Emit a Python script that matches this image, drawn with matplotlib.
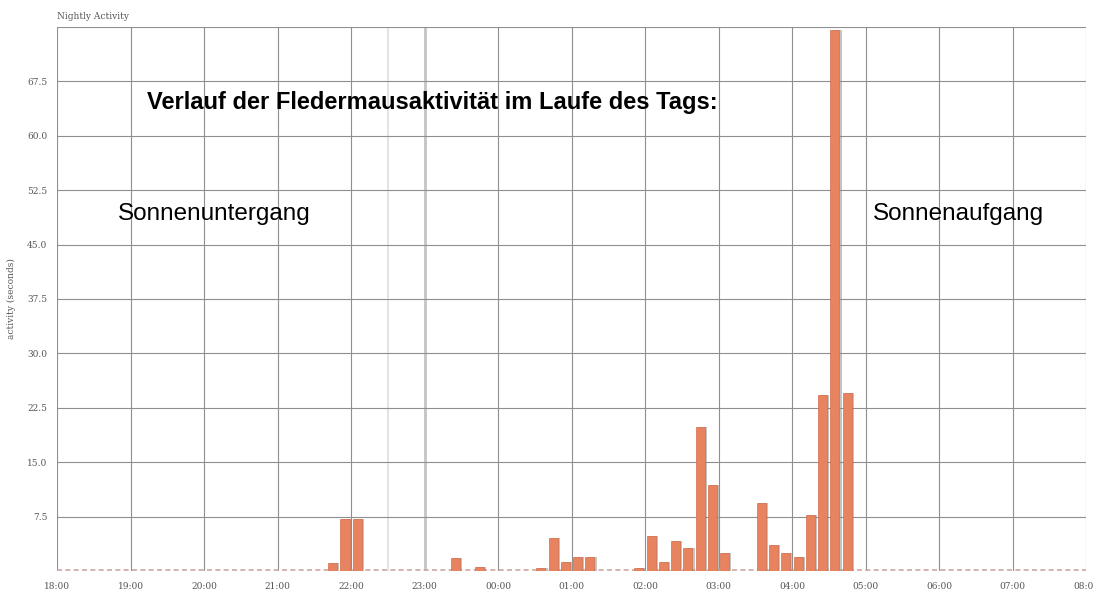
import matplotlib.pyplot as plt

# 10-minute bins (start time) with recorded activity in seconds
bin_starts = ["21:40", "21:50", "22:00", "23:20", "23:40",
              "00:30", "00:40", "00:50", "01:00", "01:10",
              "01:50", "02:00", "02:10", "02:20", "02:30", "02:40", "02:50", "03:00",
              "03:30", "03:40", "03:50", "04:00", "04:10", "04:20", "04:30", "04:40"]
activity = [1.1, 7.2, 7.2, 1.8, 0.5,
            0.4, 4.5, 1.3, 1.9, 1.9,
            0.4, 4.8, 1.2, 4.1, 3.1, 19.8, 11.9, 2.5,
            9.4, 3.6, 2.5, 1.9, 7.7, 24.2, 74.6, 24.6]

hour_labels = ["18:00", "19:00", "20:00", "21:00", "22:00", "23:00", "00:00",
               "01:00", "02:00", "03:00", "04:00", "05:00", "06:00", "07:00", "08:00"]
y_ticks = [7.5, 15.0, 22.5, 30.0, 37.5, 45.0, 52.5, 60.0, 67.5]


def to_hours(s):
    h, m = map(int, s.split(":"))
    if h < 12:
        h += 24
    return h + m / 60


x = [to_hours(s) + 5 / 60 for s in bin_starts]

fig = plt.figure(figsize=(10.93, 5.92), dpi=100)
ax = fig.add_axes([0.0522, 0.0355, 0.9414, 0.919])

ax.set_xlim(18, 32)
ax.set_ylim(0, 75)

# grid
for v in y_ticks + [75]:
    ax.axhline(v, color="#8f8f8f", lw=0.8, zorder=1)
for h in range(18, 33):
    if h == 23:
        continue
    ax.axvline(h, color="#8f8f8f", lw=0.8, zorder=1)
ax.axvline(22.5, color="#e4e4e4", lw=1.5, zorder=0.5)
ax.axvline(23.0, color="#c4c4c4", lw=2.0, zorder=0.9)

# baseline of empty bins
ax.axhline(0.15, color="#c9a8a0", lw=1.2, ls=(0, (3, 2)), zorder=2)

# bars with a soft shadow
ax.bar([v + 0.03 for v in x], activity, width=0.125, color="#8a8a8a", alpha=0.5,
       zorder=2.5, linewidth=0)
ax.bar(x, activity, width=0.125, color="#e8835f", edgecolor="#d46c4a",
       linewidth=0.5, zorder=3)

for s in ax.spines.values():
    s.set_visible(False)

ax.set_xticks(range(18, 33))
ax.set_xticklabels(hour_labels, fontsize=6.5, color="#555555", family="DejaVu Serif")
ax.set_yticks(y_ticks)
ax.set_yticklabels([f"{v:.1f}" for v in y_ticks], fontsize=6.5, color="#555555",
                   family="DejaVu Serif")
ax.tick_params(length=0, pad=8)
ax.tick_params(axis="y", pad=7)
ax.set_ylabel("activity (seconds)", fontsize=6.5, color="#555555",
              family="DejaVu Serif", labelpad=8)

fig.text(0.052, 0.972, "Nightly Activity", fontsize=6.5, color="#555555",
         family="DejaVu Serif", va="center")

ax.text(19.23, 64.6, "Verlauf der Fledermausaktivität im Laufe des Tags:",
        fontsize=17, fontweight="bold", family="Liberation Sans", va="center", zorder=5)
ax.text(18.83, 49.2, "Sonnenuntergang", fontsize=17.5, family="Liberation Sans",
        va="center", zorder=5)
ax.text(29.1, 49.2, "Sonnenaufgang", fontsize=17.5, family="Liberation Sans",
        va="center", zorder=5)

fig.savefig("out.png", dpi=100)
